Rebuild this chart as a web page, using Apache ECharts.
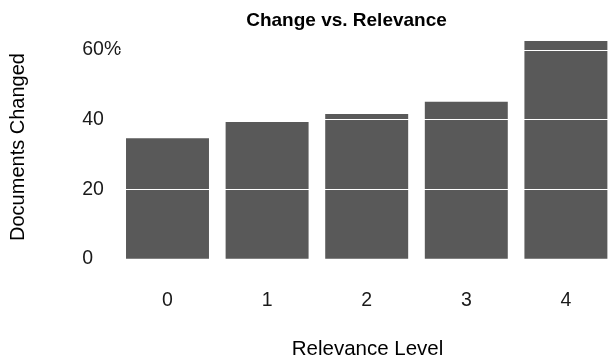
<!DOCTYPE html>
<html>
<head>
<meta charset="utf-8">
<script src="https://cdn.jsdelivr.net/npm/echarts@6/dist/echarts.min.js"></script>
<style>
  html, body { margin: 0; padding: 0; background: #fff; overflow: hidden; }
  /* the plot panel runs slightly past the right edge of the window */
  #chart { width: 620px; height: 360px; }
</style>
</head>
<body>
<div id="chart"></div>
<script>
// Relevance levels and share of documents changed (%)
const levels = ['0', '1', '2', '3', '4'];
const changedPct = [34.6, 39.3, 41.6, 45.1, 62.6];
// Y tick values; white reference lines are drawn at the non-zero ones
const yTicks = [0, 20, 40, 60];

const FONT = '"Liberation Sans", Arial, Helvetica, sans-serif';

const chart = echarts.init(document.getElementById('chart'), null, { renderer: 'canvas' });

chart.setOption({
  animation: false,
  backgroundColor: '#fff',
  title: {
    text: 'Change vs. Relevance',
    left: 341.5,
    top: 6,
    textAlign: 'center',
    textStyle: { fontFamily: FONT, fontWeight: 'bold', fontSize: 19, color: '#000' }
  },
  grid: { left: 117.7, top: 50, width: 498, height: 208.7, containLabel: false },
  xAxis: {
    type: 'category',
    data: levels,
    axisLine: { show: false },
    axisTick: { show: false },
    splitLine: { show: false },
    axisLabel: { margin: 32, fontFamily: FONT, fontSize: 19.5, color: '#1a1a1a' }
  },
  yAxis: {
    type: 'value',
    min: yTicks[0],
    max: yTicks[yTicks.length - 1],
    interval: 20,
    axisLine: { show: false },
    axisTick: { show: false },
    splitLine: { show: false },
    axisLabel: {
      margin: 35.5,
      align: 'left',
      padding: [4, 0, 0, 0],
      fontFamily: FONT,
      fontSize: 19.5,
      color: '#1a1a1a',
      formatter: v => (v === yTicks[yTicks.length - 1] ? v + '%' : String(v))
    }
  },
  graphic: [
    {
      type: 'text',
      x: 18, y: 147,
      rotation: Math.PI / 2,
      style: {
        text: 'Documents Changed',
        font: '20px ' + FONT,
        fill: '#000',
        align: 'center',
        verticalAlign: 'middle'
      }
    },
    {
      type: 'text',
      x: 367.5, y: 349,
      style: {
        text: 'Relevance Level',
        font: '20.5px ' + FONT,
        fill: '#000',
        align: 'center',
        verticalAlign: 'middle'
      }
    }
  ],
  series: [{
    type: 'bar',
    data: changedPct,
    barWidth: '83.3%',
    clip: false,
    itemStyle: { color: '#595959' },
    markLine: {
      silent: true,
      symbol: 'none',
      label: { show: false },
      lineStyle: { color: '#ffffff', width: 1.2, type: 'solid' },
      z: 5,
      data: yTicks.filter(v => v > 0).map(v => ({ yAxis: v }))
    }
  }]
});
</script>
</body>
</html>
